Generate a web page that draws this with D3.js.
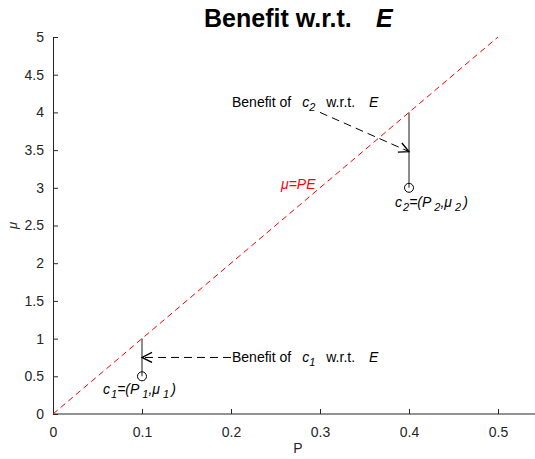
<!DOCTYPE html>
<html>
<head>
<meta charset="utf-8">
<script src="https://cdn.jsdelivr.net/npm/d3@7"></script>
<style>
  body { margin: 0; background: #fff; }
  text { font-family: "Liberation Sans", Arial, sans-serif; }
</style>
</head>
<body>
<div id="chart"></div>
<script>
// chart values
const E = 10;
const lineP = [0, 0.5];                 // mu = P*E reference line
const pointP = [0.1, 0.4];              // c1, c2
const pointMu = [0.5, 3];
const xTicks = [0, 0.1, 0.2, 0.3, 0.4, 0.5];
const yTicks = [0, 0.5, 1, 1.5, 2, 2.5, 3, 3.5, 4, 4.5, 5];
// annotation arrows (tail -> head) in data units
const arrowTailP = [0.2, 0.3];
const arrowTailMu = [0.75, 4];
const arrowHeadMu = [0.75, 3.48];

const W = 535, H = 459;
const margin = { top: 37, right: 0, bottom: 45, left: 53 };

const svg = d3.select("#chart").append("svg")
    .attr("width", W)
    .attr("height", H);

const x = d3.scaleLinear().domain([0, 0.5]).range([margin.left, 498]);
const y = d3.scaleLinear().domain([0, 5]).range([H - margin.bottom, margin.top]);

// arrow marker
svg.append("defs").append("marker")
    .attr("id", "arr")
    .attr("viewBox", "0 0 12 12")
    .attr("refX", 11).attr("refY", 6)
    .attr("markerWidth", 12).attr("markerHeight", 12)
    .attr("markerUnits", "userSpaceOnUse")
    .attr("orient", "auto")
    .append("path")
    .attr("d", "M1,1 L11,6 L1,11")
    .attr("fill", "none")
    .attr("stroke", "#000")
    .attr("stroke-width", 1.4);

// Axes
const xAxis = svg.append("g")
    .attr("transform", `translate(0,${y(0)})`)
    .call(d3.axisBottom(x).tickValues(xTicks).tickSizeInner(-5).tickSizeOuter(0).tickPadding(13)
        .tickFormat(d => d === 0 ? "0" : d3.format(".1f")(d)));
xAxis.select(".domain").attr("d", `M${x(0)},0H${W}`);

const yAxis = svg.append("g")
    .attr("transform", `translate(${x(0)},0)`)
    .call(d3.axisLeft(y).tickValues(yTicks).tickSizeInner(-5).tickSizeOuter(0).tickPadding(9)
        .tickFormat(d3.format("~g")));

svg.selectAll(".tick text").attr("font-size", 14).attr("fill", "#262626")
    .style("font-family", "Liberation Sans, Arial, sans-serif");
svg.selectAll(".domain, .tick line").attr("stroke", "#262626");

// Reference line mu = P E
svg.append("line")
    .attr("x1", x(lineP[0])).attr("y1", y(lineP[0] * E))
    .attr("x2", x(lineP[1])).attr("y2", y(lineP[1] * E))
    .attr("stroke", "#ff0000")
    .attr("stroke-dasharray", "6,4");

svg.append("text")
    .attr("x", 281).attr("y", 189)
    .attr("font-size", 14)
    .attr("fill", "#ff0000")
    .attr("font-style", "italic")
    .text("μ=PE");

// Benefit segments, points and arrows
pointP.forEach((p, i) => {
    svg.append("line")
        .attr("x1", x(p)).attr("y1", y(pointMu[i]))
        .attr("x2", x(p)).attr("y2", y(p * E))
        .attr("stroke", "#404040")
        .attr("stroke-width", 1.2);

    svg.append("circle")
        .attr("cx", x(p)).attr("cy", y(pointMu[i]))
        .attr("r", 4.5)
        .attr("fill", "none")
        .attr("stroke", "#000");

    svg.append("line")
        .attr("x1", x(arrowTailP[i])).attr("y1", y(arrowTailMu[i]))
        .attr("x2", x(p)).attr("y2", y(arrowHeadMu[i]))
        .attr("stroke", "#000")
        .attr("stroke-dasharray", "8,5")
        .attr("marker-end", "url(#arr)");
});

// Annotation texts
function benefitText(px, py, idx) {
    const t = svg.append("text")
        .attr("x", px).attr("y", py)
        .attr("font-size", 14)
        .attr("fill", "#000");
    t.append("tspan").text("Benefit of");
    t.append("tspan").attr("dx", 11).attr("font-style", "italic").text("c");
    t.append("tspan").attr("dy", 4).attr("font-size", 11).attr("font-style", "italic").text(idx);
    t.append("tspan").attr("dy", -4).attr("dx", 11).text("w.r.t.");
    t.append("tspan").attr("dx", 14).attr("font-style", "italic").text("E");
}
benefitText(x(arrowTailP[0]) + 1, y(arrowTailMu[0]) + 5, "1");
benefitText(232, y(arrowTailMu[1]) - 5, "2");

function pointText(px, py, idx) {
    const t = svg.append("text")
        .attr("x", px).attr("y", py)
        .attr("font-size", 14)
        .attr("font-style", "italic")
        .attr("fill", "#000");
    t.append("tspan").text("c");
    t.append("tspan").attr("dy", 4).attr("dx", 1).attr("font-size", 11).text(idx);
    t.append("tspan").attr("dy", -4).text("=(P");
    t.append("tspan").attr("dy", 4).attr("dx", 3).attr("font-size", 11).text(idx);
    t.append("tspan").attr("dy", -4).text(",μ");
    t.append("tspan").attr("dy", 4).attr("dx", 3).attr("font-size", 11).text(idx);
    t.append("tspan").attr("dy", -4).attr("dx", 2).text(")");
}
pointText(x(pointP[0]) - 39, y(pointMu[0]) + 18, "1");
pointText(x(pointP[1]) - 14, y(pointMu[1]) + 19, "2");

// Title and axis labels
const title = svg.append("text")
    .attr("x", 204).attr("y", 27)
    .attr("font-size", 25)
    .attr("font-weight", "bold")
    .attr("fill", "#000");
title.append("tspan").text("Benefit w.r.t.");
title.append("tspan").attr("x", 376).attr("font-style", "italic").text("E");

svg.append("text")
    .attr("x", 298).attr("y", 453)
    .attr("text-anchor", "middle")
    .attr("font-size", 14)
    .attr("fill", "#262626")
    .text("P");

svg.append("text")
    .attr("transform", `translate(17,${y(2.5)}) rotate(-90)`)
    .attr("text-anchor", "middle")
    .attr("font-size", 13)
    .attr("font-style", "italic")
    .attr("fill", "#262626")
    .text("μ");
</script>
</body>
</html>
